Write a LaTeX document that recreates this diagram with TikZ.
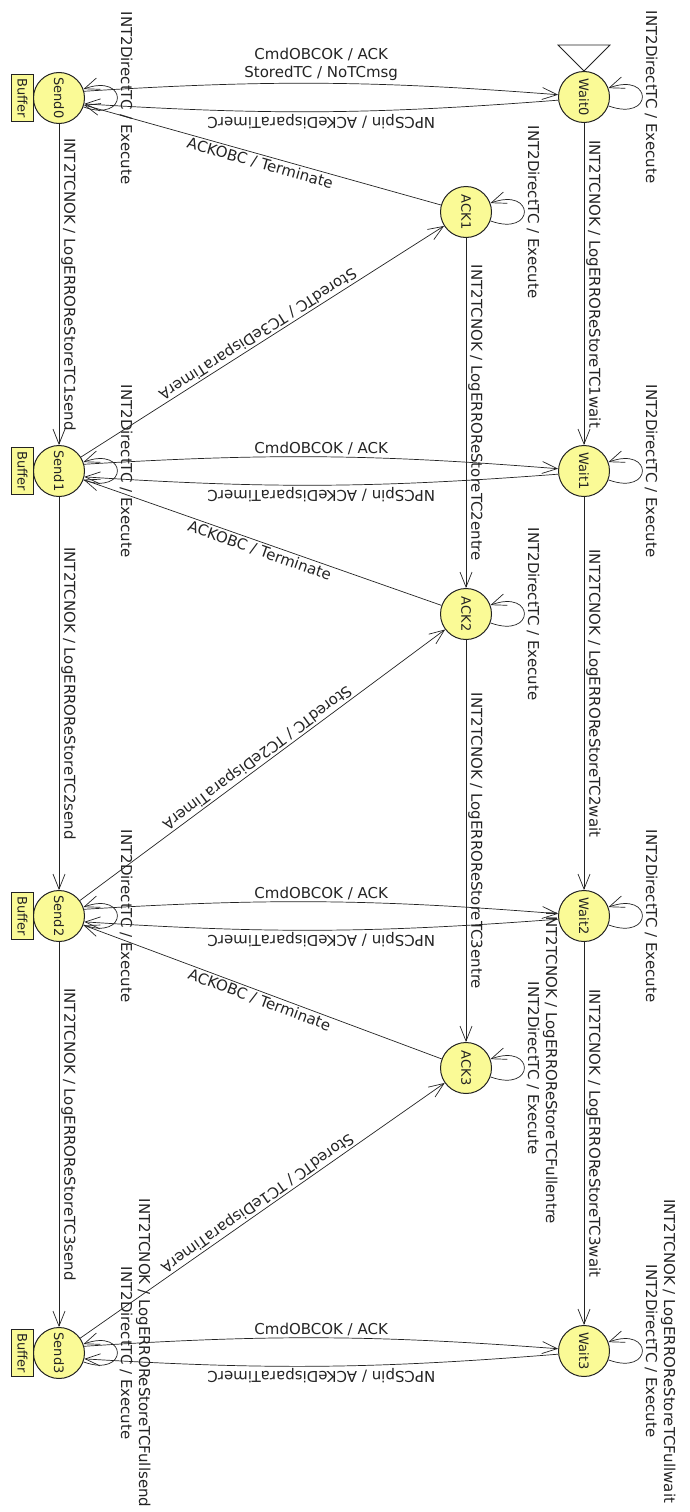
\documentclass[tikz,border=0pt]{standalone}
\usepackage{fontspec}
\setmainfont{DejaVu Sans}
\usepackage{graphicx}
\usetikzlibrary{arrows.meta,positioning}
\definecolor{statefill}{RGB}{250,250,150}
\definecolor{edgecol}{RGB}{35,35,35}
\newcommand{\labfont}{\fontsize{15}{18}\selectfont}
\newcommand{\namefont}{\fontsize{13}{15}\selectfont}
\newcommand{\vtext}[1]{\rotatebox{-90}{#1}}
\tikzset{
    state/.style={draw=edgecol, circle, fill=statefill, line width=1pt, minimum size=51pt, inner sep=0pt, font=\namefont, text=edgecol},
    buffer/.style={draw=edgecol, fill=statefill, line width=1pt, inner xsep=6pt, inner ysep=4pt, font=\namefont, text=edgecol},
    trans/.style={-{Straight Barb[length=15pt, width=12pt]}, edgecol, line width=0.7pt},
    selfloop/.style={out=-20, in=20, distance=48pt},
    toplab/.style={midway, anchor=south, inner sep=2pt, font=\labfont, text=edgecol, align=center},
    botlab/.style={midway, rotate=180, anchor=south, inner sep=2pt, font=\labfont, text=edgecol},
    vlab/.style={midway, rotate=-90, anchor=south, inner sep=2pt, font=\labfont, text=edgecol, align=center},
    acklab/.style={midway, sloped, below, inner sep=2pt, font=\labfont, text=edgecol},
    storelab/.style={midway, anchor=north, inner sep=2pt, font=\labfont, text=edgecol}
}
\begin{document}
\begin{tikzpicture}[x=1pt, y=1pt]
    \useasboundingbox (0,0) rectangle (689,-1512);

    % states
    \node[state] (send0) at (59,-98) {\vtext{Send0}};
    \node[state] (send1) at (59,-471) {\vtext{Send1}};
    \node[state] (send2) at (59,-916) {\vtext{Send2}};
    \node[state] (send3) at (59,-1353) {\vtext{Send3}};
    \node[state] (wait0) at (584,-97) {\vtext{Wait0}};
    \node[state] (wait1) at (584,-471) {\vtext{Wait1}};
    \node[state] (wait2) at (584,-916) {\vtext{Wait2}};
    \node[state] (wait3) at (584,-1351) {\vtext{Wait3}};
    \node[state] (ack1) at (466,-212) {\vtext{ACK1}};
    \node[state] (ack2) at (466,-614) {\vtext{ACK2}};
    \node[state] (ack3) at (466,-1068) {\vtext{ACK3}};

    \node[buffer, left=-1pt of send0] (buf0) {\vtext{Buffer}};
    \node[buffer, left=-1pt of send1] (buf1) {\vtext{Buffer}};
    \node[buffer, left=-1pt of send2] (buf2) {\vtext{Buffer}};
    \node[buffer, left=-1pt of send3] (buf3) {\vtext{Buffer}};

    % initial state
    \draw[edgecol, fill=white, line width=0.8pt] (wait0.north) -- ++(-26,26) -- ++(52,0) -- cycle;

    % send <-> wait
    \draw[trans] (send0.15) to[bend left=4] node[toplab] {CmdOBCOK / ACK\\StoredTC / NoTCmsg} (wait0.175);
    \draw[trans] (wait0.187) to[bend left=4] node[botlab] {NPCSpin / ACKeDisparaTimerC} (send0.-13);
    \draw[trans] (send1.15) to[bend left=4] node[toplab] {CmdOBCOK / ACK} (wait1.175);
    \draw[trans] (wait1.187) to[bend left=4] node[botlab] {NPCSpin / ACKeDisparaTimerC} (send1.-13);
    \draw[trans] (send2.15) to[bend left=4] node[toplab] {CmdOBCOK / ACK} (wait2.175);
    \draw[trans] (wait2.187) to[bend left=4] node[botlab] {NPCSpin / ACKeDisparaTimerC} (send2.-13);
    \draw[trans] (send3.15) to[bend left=4] node[toplab] {CmdOBCOK / ACK} (wait3.175);
    \draw[trans] (wait3.187) to[bend left=4] node[botlab] {NPCSpin / ACKeDisparaTimerC} (send3.-13);

    % columns
    \draw[trans] (send0) -- node[vlab] {INT2TCNOK / LogERROReStoreTC1send} (send1);
    \draw[trans] (send1) -- node[vlab] {INT2TCNOK / LogERROReStoreTC2send} (send2);
    \draw[trans] (send2) -- node[vlab] {INT2TCNOK / LogERROReStoreTC3send} (send3);
    \draw[trans] (wait0) -- node[vlab] {INT2TCNOK / LogERROReStoreTC1wait} (wait1);
    \draw[trans] (wait1) -- node[vlab] {INT2TCNOK / LogERROReStoreTC2wait} (wait2);
    \draw[trans] (wait2) -- node[vlab] {INT2TCNOK / LogERROReStoreTC3wait} (wait3);
    \draw[trans] (ack1) -- node[vlab] {INT2TCNOK / LogERROReStoreTC2entre} (ack2);
    \draw[trans] (ack2) -- node[vlab] {INT2TCNOK / LogERROReStoreTC3entre} (ack3);

    % diagonals
    \draw[trans] (ack1) -- node[acklab] {ACKOBC / Terminate} (send0);
    \draw[trans] (ack2) -- node[acklab] {ACKOBC / Terminate} (send1);
    \draw[trans] (ack3) -- node[acklab] {ACKOBC / Terminate} (send2);
    \draw[trans] (send1) -- node[storelab, rotate=212.5] {StoredTC / TC3eDisparaTimerA} (ack1);
    \draw[trans] (send2) -- node[storelab, rotate=216.6] {StoredTC / TC2eDisparaTimerA} (ack2);
    \draw[trans] (send3) -- node[storelab, rotate=215] {StoredTC / TC1eDisparaTimerA} (ack3);

    % self loops
    \draw[trans] (send0) to[selfloop] node[vlab] {INT2DirectTC / Execute} (send0);
    \draw[trans] (send1) to[selfloop] node[vlab] {INT2DirectTC / Execute} (send1);
    \draw[trans] (send2) to[selfloop] node[vlab] {INT2DirectTC / Execute} (send2);
    \draw[trans] (send3) to[selfloop] node[vlab] {INT2TCNOK / LogERROReStoreTCFullsend\\INT2DirectTC / Execute} (send3);
    \draw[trans] (wait0) to[selfloop] node[vlab] {INT2DirectTC / Execute} (wait0);
    \draw[trans] (wait1) to[selfloop] node[vlab] {INT2DirectTC / Execute} (wait1);
    \draw[trans] (wait2) to[selfloop] node[vlab] {INT2DirectTC / Execute} (wait2);
    \draw[trans] (wait3) to[selfloop] node[vlab] {INT2TCNOK / LogERROReStoreTCFullwait\\INT2DirectTC / Execute} (wait3);
    \draw[trans] (ack1) to[selfloop] node[vlab] {INT2DirectTC / Execute} (ack1);
    \draw[trans] (ack2) to[selfloop] node[vlab] {INT2DirectTC / Execute} (ack2);
    \draw[trans] (ack3) to[selfloop] node[vlab] {INT2TCNOK / LogERROReStoreTCFullentre\\INT2DirectTC / Execute} (ack3);
\end{tikzpicture}
\end{document}
